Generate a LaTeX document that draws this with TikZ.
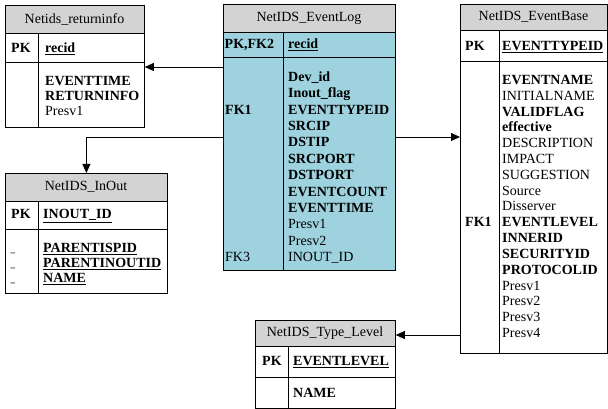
\documentclass[tikz,border=0pt]{standalone}
\usepackage{fontspec}
\setmainfont{Liberation Serif}
\usetikzlibrary{arrows.meta}
\definecolor{hdrgray}{HTML}{D3D3D3}
\definecolor{logteal}{HTML}{9DD2DE}
\tikzset{
  tbl/.style={draw=black, line width=0.8pt, inner sep=0pt, anchor=north west},
  rule/.style={draw=black, line width=0.8pt},
  hdrtxt/.style={inner sep=0pt, font=\fontsize{14}{16}\selectfont},
  fld/.style={inner sep=0pt, anchor=base west, font=\fontsize{14}{16}\selectfont},
  fk/.style={draw=black, line width=0.8pt, -{Triangle[length=9pt,width=8pt]}},
}
\begin{document}
\begin{tikzpicture}[x=1pt,y=-1pt]
\useasboundingbox (0,0) rectangle (608,409);

% ---------- Netids_returninfo ----------
\fill[white] (5,5) rectangle (144,127);
\fill[hdrgray] (5,5) rectangle (144,33);
\node[tbl, minimum width=139pt, minimum height=122pt] (rinfo) at (5,5) {};
\draw[rule] (5,33) -- (144,33) (5,62) -- (144,62) (38,33) -- (38,127);
\node[hdrtxt] (rinfo-h) at (74.5,19) {Netids\_returninfo};
\node[fld] (rinfo-pk) at (11,52.6) {\textbf{PK}};
\node[fld] (rinfo-id) at (45,52.6) {\textbf{\underline{recid}}};
\foreach \t [count=\i] in {\textbf{EVENTTIME},\textbf{RETURNINFO},Presv1}
  \node[fld] (rinfo-r\i) at (45,85.6+15*\i-15) {\t};

% ---------- NetIDS_InOut ----------
\fill[white] (5,173) rectangle (167,293);
\fill[hdrgray] (5,173) rectangle (167,201);
\node[tbl, minimum width=162pt, minimum height=120pt] (inout) at (5,173) {};
\draw[rule] (5,201) -- (167,201) (5,229) -- (167,229) (38,201) -- (38,293);
\node[hdrtxt] (inout-h) at (86,187) {NetIDS\_InOut};
\node[fld] (inout-pk) at (11,218.6) {\textbf{PK}};
\node[fld] (inout-id) at (43,218.6) {\textbf{\underline{INOUT\_ID}}};
\foreach \t [count=\i] in {\textbf{\underline{PARENTISPID}},\textbf{\underline{PARENTINOUTID}},\textbf{\underline{NAME}}}{
  \node[fld] (inout-r\i) at (43,252.6+15*\i-15) {\t};
  \node[fld, font=\fontsize{9}{11}\selectfont\bfseries] (inout-m\i) at (10.5,252.6+15*\i-15) {\_};
}

% ---------- NetIDS_EventLog ----------
\fill[logteal] (223,4) rectangle (395,270);
\fill[hdrgray] (223,4) rectangle (395,32);
\node[tbl, minimum width=172pt, minimum height=266pt] (evlog) at (223,4) {};
\draw[rule] (223,32) -- (395,32) (223,57) -- (395,57) (283,32) -- (283,270);
\node[hdrtxt] (evlog-h) at (309,18) {NetIDS\_EventLog};
\node[fld] (evlog-pk) at (224.5,48.6) {\textbf{PK,FK2}};
\node[fld] (evlog-id) at (288,48.6) {\textbf{\underline{recid}}};
\foreach \t [count=\i] in {\textbf{Dev\_id},\textbf{Inout\_flag},\textbf{EVENTTYPEID},\textbf{SRCIP},
  \textbf{DSTIP},\textbf{SRCPORT},\textbf{DSTPORT},\textbf{EVENTCOUNT},\textbf{EVENTTIME},
  Presv1,Presv2,INOUT\_ID}
  \node[fld] (evlog-r\i) at (288,81.6+16.35*\i-16.35) {\t};
\node[fld] (evlog-fk1) at (225,81.6+16.35*2) {\textbf{FK1}};
\node[fld] (evlog-fk3) at (225,81.6+16.35*11) {FK3};

% ---------- NetIDS_EventBase ----------
\fill[white] (460,4) rectangle (607,353);
\fill[hdrgray] (460,4) rectangle (607,30);
\node[tbl, minimum width=147pt, minimum height=349pt] (evbase) at (460,4) {};
\draw[rule] (460,30) -- (607,30) (460,61) -- (607,61) (499,30) -- (499,353);
\node[hdrtxt] (evbase-h) at (533.5,17) {NetIDS\_EventBase};
\node[fld] (evbase-pk) at (465,50.6) {\textbf{PK}};
\node[fld] (evbase-id) at (502,50.6) {\textbf{\underline{EVENTTYPEID}}};
\foreach \t [count=\i] in {\textbf{EVENTNAME},INITIALNAME,\textbf{VALIDFLAG},\textbf{effective},
  DESCRIPTION,IMPACT,SUGGESTION,Source,Disserver,\textbf{EVENTLEVEL},\textbf{INNERID},
  \textbf{SECURITYID},\textbf{PROTOCOLID},Presv1,Presv2,Presv3,Presv4}
  \node[fld] (evbase-r\i) at (502,84.6+15.8*\i-15.8) {\t};
\node[fld] (evbase-fk1) at (465,84.6+15.8*9) {\textbf{FK1}};

% ---------- NetIDS_Type_Level ----------
\fill[white] (255,320) rectangle (395,408);
\fill[hdrgray] (255,320) rectangle (395,346);
\node[tbl, minimum width=140pt, minimum height=88pt] (tlevel) at (255,320) {};
\draw[rule] (255,346) -- (395,346) (255,377) -- (395,377) (288,346) -- (288,408);
\node[hdrtxt] (tlevel-h) at (325,333) {NetIDS\_Type\_Level};
\node[fld] (tlevel-pk) at (262,365.6) {\textbf{PK}};
\node[fld] (tlevel-id) at (293,365.6) {\textbf{\underline{EVENTLEVEL}}};
\node[fld] (tlevel-r1) at (293,397.6) {\textbf{NAME}};

% ---------- foreign-key connectors ----------
\coordinate (ya) at (0,67);
\coordinate (yb) at (0,137);
\coordinate (yc) at (0,335);
\draw[fk] (evlog.west |- ya) -- (rinfo.east |- ya);
\draw[fk] (evlog.west |- yb) -| (inout.north);
\draw[fk] (evlog.east |- yb) -- (evbase.west |- yb);
\draw[fk] (evbase.west |- yc) -- (tlevel.east |- yc);
\end{tikzpicture}
\end{document}
